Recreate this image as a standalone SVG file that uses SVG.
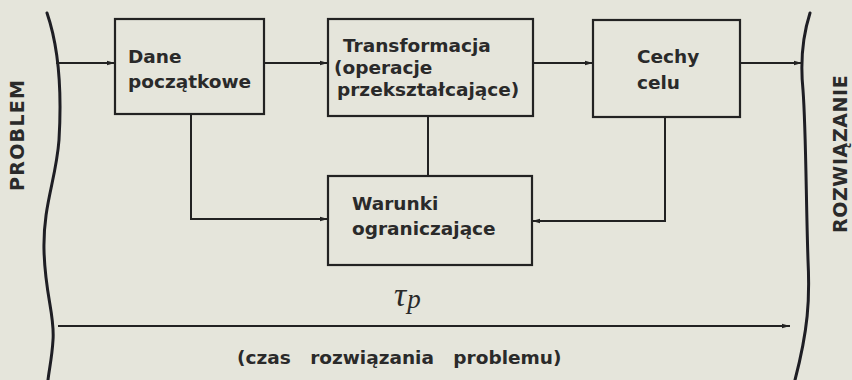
<svg xmlns="http://www.w3.org/2000/svg" width="852" height="380" viewBox="0 0 852 380">
  <style>
    .box { fill: none; stroke: #222; stroke-width: 2.2; }
    .ln { fill: none; stroke: #222; stroke-width: 2; }
    .br { fill: none; stroke: #1e1e24; stroke-width: 3; stroke-linecap: round; }
    .t { font-family: "DejaVu Sans", "Liberation Sans", sans-serif; font-weight: bold; font-size: 18.5px; fill: #2a2a2a; }
    .v { font-family: "DejaVu Sans", "Liberation Sans", sans-serif; font-weight: bold; font-size: 19px; fill: #2a2a2a; }
  </style>
  <defs>
    <marker id="ah" markerWidth="8" markerHeight="6" refX="8" refY="3" orient="auto" markerUnits="userSpaceOnUse">
      <path d="M0,0.8 L8,3 L0,5.2 Z" fill="#222"/>
    </marker>
  </defs>
  <rect x="0" y="0" width="852" height="380" fill="#e5e5db"/>

  <g id="bracket-problem">
    <path class="br" d="M47,13 C58,45 62,90 59,140 C56,180 43,205 44,250 C45,295 55,315 53,340 C52,358 49,370 48,380"/>
    <text class="v" letter-spacing="1.3" transform="translate(24,191) rotate(-90)">PROBLEM</text>
  </g>

  <g id="bracket-rozwiazanie">
    <path class="br" d="M810,13 C803,35 800,60 803,90 C806,130 806,200 808,260 C810,300 808,330 795,380"/>
    <text class="v" letter-spacing="0.6" transform="translate(847,233) rotate(-90)">ROZWIĄZANIE</text>
  </g>

  <g id="connectors">
    <line class="ln" x1="56" y1="63" x2="115" y2="63" marker-end="url(#ah)"/>
    <line class="ln" x1="264" y1="63" x2="328" y2="63" marker-end="url(#ah)"/>
    <line class="ln" x1="533" y1="63" x2="593" y2="63" marker-end="url(#ah)"/>
    <line class="ln" x1="740" y1="63" x2="802" y2="63" marker-end="url(#ah)"/>
    <polyline class="ln" points="191,114 191,219 328,219" marker-end="url(#ah)"/>
    <line class="ln" x1="428" y1="116" x2="428" y2="176"/>
    <polyline class="ln" points="665,117 665,221 532,221" marker-end="url(#ah)"/>
    <line class="ln" x1="58" y1="326" x2="790" y2="326" marker-end="url(#ah)"/>
  </g>

  <g id="dane">
    <rect class="box" x="115" y="19" width="149" height="95"/>
    <text class="t" x="128" y="63">Dane</text>
    <text class="t" x="128" y="88">początkowe</text>
  </g>

  <g id="transformacja">
    <rect class="box" x="328" y="19" width="205" height="97"/>
    <text class="t" x="343" y="52">Transformacja</text>
    <text class="t" x="334" y="74">(operacje</text>
    <text class="t" x="337" y="96">przekształcające)</text>
  </g>

  <g id="cechy">
    <rect class="box" x="593" y="20" width="147" height="97"/>
    <text class="t" x="637" y="63">Cechy</text>
    <text class="t" x="637" y="89">celu</text>
  </g>

  <g id="warunki">
    <rect class="box" x="328" y="176" width="204" height="89"/>
    <text class="t" x="352" y="210">Warunki</text>
    <text class="t" x="352" y="235">ograniczające</text>
  </g>

  <g id="czas">
    <text x="394" y="306" font-family="Liberation Serif, serif" font-style="italic" font-size="34" fill="#2a2a2a">τ<tspan font-size="27" dx="1" dy="2">p</tspan></text>
    <text class="t" x="237" y="364" word-spacing="13">(czas rozwiązania problemu)</text>
  </g>
</svg>
